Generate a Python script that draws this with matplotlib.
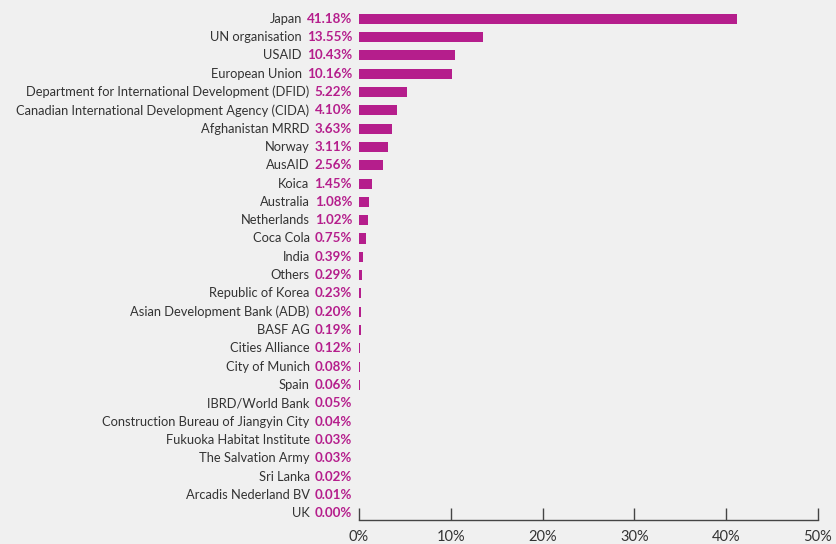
import matplotlib
matplotlib.use("Agg")
import matplotlib.pyplot as plt
from matplotlib.transforms import offset_copy

categories = ["Japan", "UN organisation", "USAID", "European Union",
              "Department for International Development (DFID)",
              "Canadian International Development Agency (CIDA)",
              "Afghanistan MRRD", "Norway", "AusAID", "Koica", "Australia",
              "Netherlands", "Coca Cola", "India", "Others", "Republic of Korea",
              "Asian Development Bank (ADB)", "BASF AG", "Cities Alliance",
              "City of Munich", "Spain", "IBRD/World Bank",
              "Construction Bureau of Jiangyin City", "Fukuoka Habitat Institute",
              "The Salvation Army", "Sri Lanka", "Arcadis Nederland BV", "UK"]
values = [41.18, 13.55, 10.43, 10.16, 5.22, 4.10, 3.63, 3.11, 2.56, 1.45, 1.08,
          1.02, 0.75, 0.39, 0.29, 0.23, 0.20, 0.19, 0.12, 0.08, 0.06, 0.05,
          0.04, 0.03, 0.03, 0.02, 0.01, 0.00]
xticks = [0, 10, 20, 30, 40, 50]
xticklabels = ["0%", "10%", "20%", "30%", "40%", "50%"]

bg = "#f0f0f0"
bar_color = "#b51e8c"
text_color = "#333333"
plt.rcParams["font.family"] = ["Lato", "DejaVu Sans"]
fs = 9.3

fig = plt.figure(figsize=(8.36, 5.44), dpi=100, facecolor=bg)
n = len(categories)
ax = fig.add_axes([359/836, 1-520/544, (818-359)/836, (520-9)/544])
ax.set_facecolor(bg)
ypos = list(range(n))
ax.barh(ypos, values, height=0.55, color=bar_color)
ax.set_xlim(0, 50)
ax.set_ylim(n - 1 + 0.37, -0.53)
for s in ["left", "top", "right"]:
    ax.spines[s].set_visible(False)
ax.spines["bottom"].set_color("#444444")
ax.spines["bottom"].set_linewidth(1.0)
ax.set_yticks([])
ax.set_xticks(xticks)
ax.set_xticklabels(xticklabels, fontsize=10.5, color=text_color)
ax.tick_params(axis="x", direction="in", length=9, width=1.0, color="#444444", pad=7)

fig.canvas.draw()
renderer = fig.canvas.get_renderer()
base = ax.get_yaxis_transform()
for y, cat, v in zip(ypos, categories, values):
    tr = offset_copy(base, fig=fig, x=-7, y=0, units="dots")
    t = ax.text(0, y, f"{v:.2f}%", transform=tr, ha="right", va="center",
                fontsize=fs + 0.3, fontweight="bold", color=bar_color)
    w = t.get_window_extent(renderer).width
    tr2 = offset_copy(base, fig=fig, x=-7 - w - 5, y=0, units="dots")
    ax.text(0, y, cat, transform=tr2, ha="right", va="center",
            fontsize=fs, color=text_color)

fig.savefig("out.png", dpi=100, facecolor=bg)
